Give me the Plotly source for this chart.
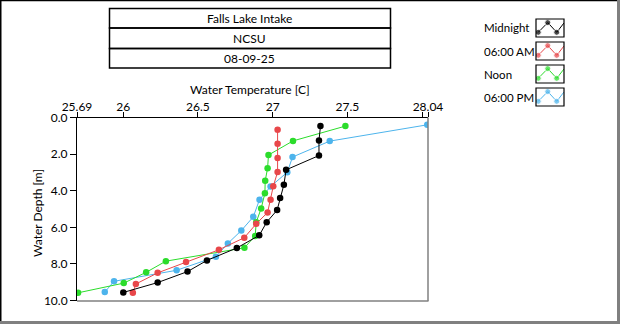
import plotly.graph_objects as go

W, H = 620, 324

# Depth profiles: water temperature [C] vs depth [m]
midnight_temp = [27.32, 27.31, 27.31, 27.09, 27.075, 27.05, 27.03, 26.96, 26.91, 26.76, 26.56, 26.43, 26.23, 26.00]
midnight_depth = [0.47, 1.26, 2.08, 2.86, 3.68, 4.40, 5.06, 5.72, 6.44, 7.13, 7.81, 8.42, 9.02, 9.56]

am6_temp = [27.033, 27.033, 27.033, 27.033, 27.004, 26.986, 26.966, 26.89, 26.81, 26.64, 26.42, 26.23, 26.084, 26.064]
am6_depth = [0.67, 1.44, 2.21, 2.98, 3.76, 4.49, 5.19, 5.81, 6.57, 7.23, 7.89, 8.49, 9.10, 9.58]

noon_temp = [27.487, 27.136, 26.972, 26.966, 26.95, 26.948, 26.923, 26.89, 26.883, 26.811, 26.285, 26.153, 26.003, 25.697]
noon_depth = [0.47, 1.28, 2.05, 2.77, 3.46, 4.14, 4.97, 5.72, 6.47, 7.12, 7.85, 8.46, 9.05, 9.58]

pm6_temp = [28.035, 27.382, 27.133, 27.098, 26.986, 26.912, 26.87, 26.79, 26.70, 26.62, 26.357, 25.938, 25.876]
pm6_depth = [0.40, 1.29, 2.16, 2.99, 3.77, 4.49, 5.43, 6.18, 6.88, 7.61, 8.35, 8.95, 9.54]

series_names = ["Midnight", "06:00 AM", "Noon", "06:00 PM"]
series_colors = ["#000000", "#E8474A", "#2BDC2B", "#4DB4EC"]
series_temp = [midnight_temp, am6_temp, noon_temp, pm6_temp]
series_depth = [midnight_depth, am6_depth, noon_depth, pm6_depth]

x_tickvals = [25.69, 26, 26.5, 27, 27.5, 28, 28.04]
x_ticktext = ["25.69", "26", "26.5", "27", "27.5", "", "28.04"]
y_tickvals = [0, 2, 4, 6, 8, 10]

title_lines = ["Falls Lake Intake", "NCSU", "08-09-25"]

FONT = "Lato"


def px(x):
    return x / W


def py(y):
    return 1 - y / H


fig = go.Figure()

# data traces, drawn so the Midnight profile ends up on top
for name, color, t, d in reversed(list(zip(series_names, series_colors, series_temp, series_depth))):
    fig.add_trace(go.Scatter(
        x=t, y=d, mode="lines+markers", name=name,
        line=dict(color=color, width=1),
        marker=dict(color=color, size=6.5, symbol="circle"),
        showlegend=False, xaxis="x", yaxis="y",
    ))

# legend glyphs: small zig-zag with markers inside each box
glyph_x = [0.08, 0.42, 0.74, 1.0]
glyph_y = [0.74, 0.20, 0.74, 0.22]
row_h = 18 / 23
for i, color in enumerate(series_colors):
    fig.add_trace(go.Scatter(
        x=glyph_x, y=[i + g * row_h for g in glyph_y],
        mode="lines+markers",
        line=dict(color=color, width=1),
        marker=dict(color=color, size=[6, 6, 6, 0]),
        showlegend=False, hoverinfo="skip", xaxis="x2", yaxis="y2",
    ))

axis_font = dict(family=FONT, size=12, color="#000000")

fig.update_layout(
    width=W, height=H,
    margin=dict(l=0, r=0, t=0, b=0),
    paper_bgcolor="#FFFFFF", plot_bgcolor="#FFFFFF",
    showlegend=False,
    font=axis_font,
    xaxis=dict(
        domain=[px(77), px(428)], anchor="y", side="top",
        range=[25.69, 28.04], tickmode="array",
        tickvals=x_tickvals, ticktext=x_ticktext,
        ticks="outside", ticklen=5, tickcolor="#000000", tickwidth=1,
        ticklabelstandoff=-4,
        showline=True, linecolor="#000000", linewidth=1,
        showgrid=False, zeroline=False, automargin=False,
        tickfont=axis_font,
    ),
    yaxis=dict(
        domain=[py(300.5), py(117.5)], anchor="x",
        range=[10, 0], tickmode="array", tickvals=y_tickvals,
        tickformat=".1f",
        ticks="outside", ticklen=6, tickcolor="#000000", tickwidth=1,
        showline=True, linecolor="#000000", linewidth=1,
        showgrid=False, zeroline=False, automargin=False,
        tickfont=axis_font,
    ),
    xaxis2=dict(domain=[px(536), px(564)], range=[0, 1], visible=False,
                anchor="y2", fixedrange=True),
    yaxis2=dict(domain=[py(106), py(19)], range=[87 / 23, 0], visible=False,
                anchor="x2", fixedrange=True),
)

shapes = []
# outer frame: dark top/left, grey bottom/right
shapes.append(dict(type="line", xref="paper", yref="paper", x0=0, x1=1, y0=py(0.5), y1=py(0.5),
                   line=dict(color="#000000", width=1.5)))
shapes.append(dict(type="line", xref="paper", yref="paper", x0=px(0.75), x1=px(0.75), y0=0, y1=1,
                   line=dict(color="#000000", width=1.5)))
shapes.append(dict(type="line", xref="paper", yref="paper", x0=px(618.5), x1=px(618.5), y0=0, y1=1,
                   line=dict(color="#808080", width=3)))
shapes.append(dict(type="line", xref="paper", yref="paper", x0=0, x1=1, y0=py(322.5), y1=py(322.5),
                   line=dict(color="#808080", width=3)))
# plot area: grey right and bottom edges
shapes.append(dict(type="line", xref="paper", yref="paper", x0=px(428), x1=px(428), y0=py(117.5), y1=py(301),
                   line=dict(color="#808080", width=1.5)))
shapes.append(dict(type="line", xref="paper", yref="paper", x0=px(77), x1=px(428.5), y0=py(301), y1=py(301),
                   line=dict(color="#808080", width=1.5)))
# title boxes
box_edges = [8.5, 28, 48.5, 68]
for k in range(3):
    shapes.append(dict(type="rect", xref="paper", yref="paper",
                       x0=px(109.5), x1=px(390.5), y0=py(box_edges[k]), y1=py(box_edges[k + 1]),
                       line=dict(color="#000000", width=1.5), fillcolor="rgba(0,0,0,0)"))
# legend glyph boxes
for i in range(4):
    top = 19 + 23 * i
    shapes.append(dict(type="rect", xref="paper", yref="paper",
                       x0=px(536), x1=px(564), y0=py(top), y1=py(top + 18),
                       line=dict(color="#000000", width=1.2), fillcolor="rgba(0,0,0,0)"))
fig.update_layout(shapes=shapes)

annotations = []
for k, txt in enumerate(title_lines):
    annotations.append(dict(text=txt, xref="paper", yref="paper", x=px(250), y=py((box_edges[k] + box_edges[k + 1]) / 2),
                            xanchor="center", yanchor="middle", showarrow=False,
                            font=dict(family=FONT, size=12, color="#000000")))
for i, name in enumerate(series_names):
    annotations.append(dict(text=name, xref="paper", yref="paper", x=px(482), y=py(28 + 23 * i),
                            xanchor="left", yanchor="middle", showarrow=False,
                            font=dict(family=FONT, size=11.5, color="#000000")))
annotations.append(dict(text="Water Temperature [C]", xref="paper", yref="paper", x=px(250), y=py(89),
                        xanchor="center", yanchor="middle", showarrow=False,
                        font=dict(family=FONT, size=12, color="#000000")))
annotations.append(dict(text="Water Depth [m]", xref="paper", yref="paper", x=px(37), y=py(213),
                        xanchor="center", yanchor="middle", showarrow=False, textangle=-90,
                        font=dict(family=FONT, size=12, color="#000000")))
fig.update_layout(annotations=annotations)

fig.write_html("out.html")
